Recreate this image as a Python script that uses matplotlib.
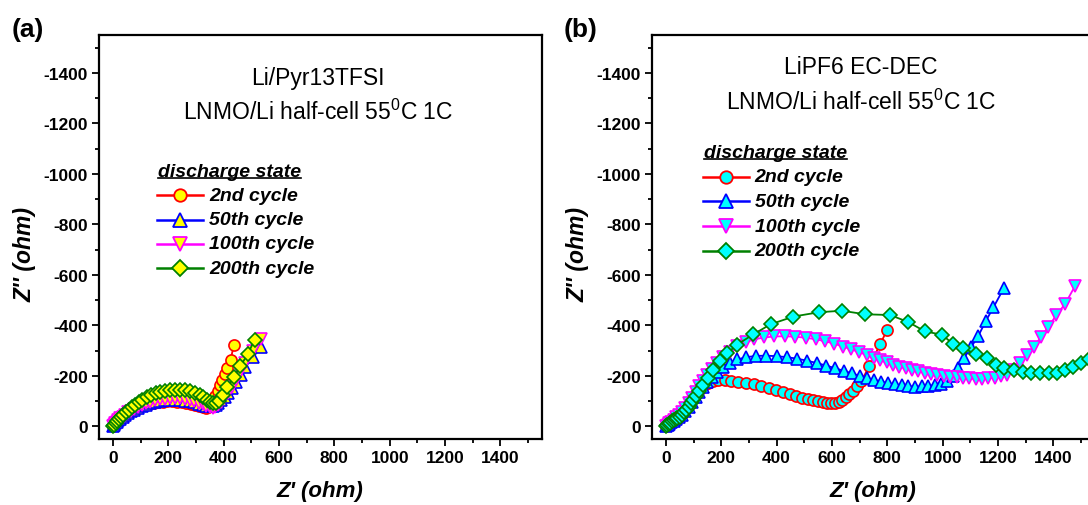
import matplotlib
matplotlib.use("Agg")
import matplotlib.pyplot as plt
import numpy as np

plt.rcParams["font.family"] = ["Liberation Sans", "DejaVu Sans"]
plt.rcParams["axes.unicode_minus"] = False
plt.rcParams["mathtext.fontset"] = "custom"
plt.rcParams["mathtext.rm"] = "Liberation Sans"
plt.rcParams["mathtext.it"] = "Liberation Sans:italic"
plt.rcParams["mathtext.bf"] = "Liberation Sans:bold"

labels = ["2nd cycle", "50th cycle", "100th cycle", "200th cycle"]

# panel (a): Li/Pyr13TFSI, Z' and -Z'' in ohm
a_2_x = [0, 5, 10, 15, 20, 28, 36, 45, 55, 65, 77, 90, 103, 117, 132, 147, 163, 180, 197, 214,
         231, 248, 265, 281, 297, 311, 324, 335, 345, 354, 362, 370, 378, 387, 396, 405, 414, 425, 437]
a_2_y = [0, 8, 15, 22, 28, 35, 42, 49, 56, 62, 68, 74, 80, 85, 89, 93, 96, 98, 99, 99,
         98, 96, 93, 89, 84, 79, 75, 74, 78, 88, 102, 120, 140, 162, 185, 208, 232, 262, 322]
a_50_x = [0, 4, 9, 14, 20, 27, 35, 44, 54, 65, 77, 90, 104, 119, 135, 152, 169, 187, 205, 223, 241,
          259, 277, 294, 310, 325, 338, 350, 361, 371, 381, 392, 404, 417, 431, 446, 462, 478, 507, 534]
a_50_y = [0, 6, 12, 18, 24, 31, 38, 45, 52, 59, 66, 73, 80, 86, 91, 96, 100, 103, 104, 105, 104,
          102, 99, 95, 90, 85, 81, 79, 80, 85, 93, 103, 116, 132, 152, 176, 204, 234, 274, 314]
a_100_x = [0, 4, 9, 14, 20, 27, 35, 44, 54, 65, 77, 90, 104, 119, 135, 152, 169, 187, 205, 223, 241,
           259, 277, 294, 310, 325, 338, 350, 360, 370, 380, 391, 403, 416, 430, 445, 461, 478, 506, 536]
a_100_y = [0, 7, 13, 19, 25, 32, 39, 47, 55, 62, 70, 78, 85, 92, 98, 103, 107, 110, 112, 112, 111,
           109, 105, 100, 94, 88, 82, 77, 74, 76, 84, 96, 112, 132, 156, 184, 216, 250, 300, 348]
a_200_x = [0, 5, 10, 16, 22, 30, 38, 47, 57, 68, 80, 93, 107, 122, 138, 155, 172, 190, 208, 226,
           244, 262, 280, 297, 313, 327, 340, 352, 362, 372, 382, 397, 414, 437, 461, 488, 512]
a_200_y = [0, 7, 14, 21, 28, 37, 46, 56, 66, 76, 86, 96, 106, 115, 124, 131, 137, 141, 144, 145,
           145, 143, 139, 133, 125, 116, 106, 98, 93, 93, 102, 125, 155, 195, 240, 287, 344]

# panel (b): LiPF6 EC-DEC
b_2_x = [0, 8, 16, 25, 35, 46, 58, 70, 82, 95, 108, 122, 137, 153, 170, 190, 212, 236, 262, 290,
         318, 345, 372, 398, 423, 447, 470, 492, 512, 531, 549, 566, 582, 597, 611, 624, 637, 650,
         663, 676, 690, 706, 735, 775, 798]
b_2_y = [0, 6, 12, 19, 27, 37, 50, 67, 88, 110, 130, 148, 162, 173, 180, 184, 184, 181, 177, 172,
         166, 159, 151, 143, 135, 128, 121, 114, 108, 103, 99, 96, 94, 93, 93, 96, 104, 115,
         128, 142, 158, 178, 240, 327, 380]
b_50_x = [0, 6, 12, 20, 28, 37, 47, 58, 70, 82, 95, 108, 121, 135, 150, 166, 184, 205, 230, 258,
          290, 325, 362, 400, 438, 475, 510, 545, 578, 610, 642, 672, 700, 727, 753, 778, 803, 828,
          852, 876, 900, 924, 948, 972, 995, 1016, 1036, 1056, 1078, 1102, 1128, 1156, 1183, 1222]
b_50_y = [0, 5, 10, 16, 22, 29, 37, 47, 60, 76, 95, 115, 135, 155, 175, 195, 215, 235, 252, 265,
          274, 279, 280, 278, 274, 268, 260, 251, 241, 231, 220, 210, 200, 191, 184, 177, 171, 166,
          162, 159, 157, 158, 160, 163, 167, 178, 200, 232, 272, 313, 357, 418, 471, 550]
b_100_x = [0, 6, 12, 20, 28, 37, 47, 58, 70, 82, 95, 108, 121, 135, 150, 167, 186, 207, 231, 258,
           288, 320, 355, 392, 430, 468, 505, 541, 576, 609, 640, 670, 698, 725, 750, 774, 797, 820,
           843, 866, 889, 912, 935, 958, 981, 1004, 1027, 1050, 1073, 1096, 1119, 1142, 1165, 1188,
           1210, 1232, 1256, 1280, 1305, 1330, 1355, 1382, 1410, 1442, 1478]
b_100_y = [0, 6, 12, 19, 27, 36, 46, 58, 73, 92, 113, 135, 158, 180, 203, 226, 250, 273, 296, 317,
           334, 345, 352, 356, 357, 355, 351, 345, 337, 327, 316, 305, 294, 283, 272, 262, 253, 245,
           237, 230, 224, 218, 213, 208, 204, 200, 197, 194, 192, 190, 189, 189, 190, 193,
           198, 205, 222, 250, 282, 315, 355, 395, 440, 485, 556]
b_200_x = [0, 5, 10, 16, 22, 28, 35, 42, 50, 58, 66, 74, 82, 90, 98, 108, 120, 135, 152, 172, 195,
           222, 258, 315, 378, 461, 553, 636, 719, 810, 876, 936, 998, 1036, 1074, 1121, 1161, 1192,
           1222, 1256, 1290, 1318, 1350, 1383, 1413, 1443, 1472, 1500, 1530]
b_200_y = [0, 5, 10, 15, 20, 25, 30, 34, 38, 45, 55, 66, 78, 92, 106, 122, 142, 165, 192, 225, 258,
           290, 324, 364, 404, 435, 452, 458, 444, 441, 413, 376, 363, 327, 309, 286, 270, 243,
           230, 225, 216, 212, 210, 210, 213, 222, 235, 252, 268]

colors = ["#ff0000", "#0000ff", "#ff00ff", "#008000"]
markers = ["o", "^", "v", "D"]
msizes = [8, 9, 9, 7.5]

panels = [
    {"series": [(a_2_x, a_2_y), (a_50_x, a_50_y), (a_100_x, a_100_y), (a_200_x, a_200_y)],
     "fill": "#ffff00", "title1": "Li/Pyr13TFSI", "tag": "(a)", "left": 99,
     "tx": 0.495, "ty": [0.896, 0.812], "hx": 0.133, "hy": 0.663, "dy": 0.060},
    {"series": [(b_2_x, b_2_y), (b_50_x, b_50_y), (b_100_x, b_100_y), (b_200_x, b_200_y)],
     "fill": "#00ffff", "title1": "LiPF6 EC-DEC", "tag": "(b)", "left": 652,
     "tx": 0.472, "ty": [0.923, 0.837], "hx": 0.117, "hy": 0.710, "dy": 0.061},
]

W, H = 1088, 506
fig = plt.figure(figsize=(W / 100, H / 100), dpi=100)

for p in panels:
    ax = fig.add_axes([p["left"] / W, 1 - 440 / H, 443 / W, 404 / H])
    for (xs, ys), c, m, ms in zip(p["series"], colors, markers, msizes):
        ax.plot(xs, -np.array(ys), color=c, marker=m, markersize=ms, markerfacecolor=p["fill"],
                markeredgecolor=c, markeredgewidth=1.2, linewidth=1.3)

    ax.set_xlim(-50, 1550)
    ax.set_ylim(50, -1550)
    ax.set_xticks(np.arange(0, 1401, 200))
    ax.set_xticks(np.arange(0, 1501, 100), minor=True)
    ax.set_yticks(np.arange(0, -1401, -200))
    ax.set_yticks(np.arange(0, -1501, -100), minor=True)
    ax.tick_params(which="both", direction="out", width=1.3, top=False, right=False)
    ax.tick_params(which="major", length=5, labelsize=12.5, pad=3)
    ax.tick_params(which="minor", length=3)
    for lab in ax.get_xticklabels() + ax.get_yticklabels():
        lab.set_fontweight("bold")
    for s in ax.spines.values():
        s.set_linewidth(1.6)

    ax.text(p["tx"], p["ty"][0], p["title1"], transform=ax.transAxes, ha="center", va="center",
            fontsize=16.5)
    ax.text(p["tx"], p["ty"][1], r"LNMO/Li half-cell 55$^{\mathrm{0}}$C 1C", transform=ax.transAxes,
            ha="center", va="center", fontsize=16.5)

    # legend block
    head = ax.text(p["hx"], p["hy"], "discharge state", transform=ax.transAxes, ha="left",
                   va="center", fontsize=14, fontweight="bold", fontstyle="italic")
    x0 = p["hx"] - 0.002
    for i, (c, m, ms, lab) in enumerate(zip(colors, markers, msizes, labels)):
        yy = p["hy"] - p["dy"] * (i + 1)
        ax.plot([x0, x0 + 0.052, x0 + 0.104], [yy, yy, yy], transform=ax.transAxes, color=c,
                linewidth=1.8, marker=m, markevery=[1], markersize=ms + 1,
                markerfacecolor=p["fill"], markeredgecolor=c, markeredgewidth=1.3, clip_on=False)
        ax.text(x0 + 0.117, yy, lab, transform=ax.transAxes, ha="left", va="center", fontsize=14,
                fontweight="bold", fontstyle="italic")

    fig.canvas.draw()
    bb = head.get_window_extent().transformed(ax.transAxes.inverted())
    ax.plot([bb.x0, bb.x1], [bb.y0 + 0.004, bb.y0 + 0.004], transform=ax.transAxes, color="black",
            linewidth=1.2, clip_on=False)

    cx = (p["left"] + 221) / W
    fig.text(cx, 1 - 492 / H, "Z' (ohm)", ha="center", va="center", fontsize=16,
             fontweight="bold", fontstyle="italic")
    fig.text((p["left"] - 74) / W, 1 - 254 / H, "Z'' (ohm)", ha="center", va="center",
             rotation=90, fontsize=16.5, fontweight="bold", fontstyle="italic")
    fig.text((p["left"] - 71) / W, 1 - 30 / H, p["tag"], ha="center", va="center", fontsize=19,
             fontweight="bold")

fig.savefig("out.png", dpi=100)
